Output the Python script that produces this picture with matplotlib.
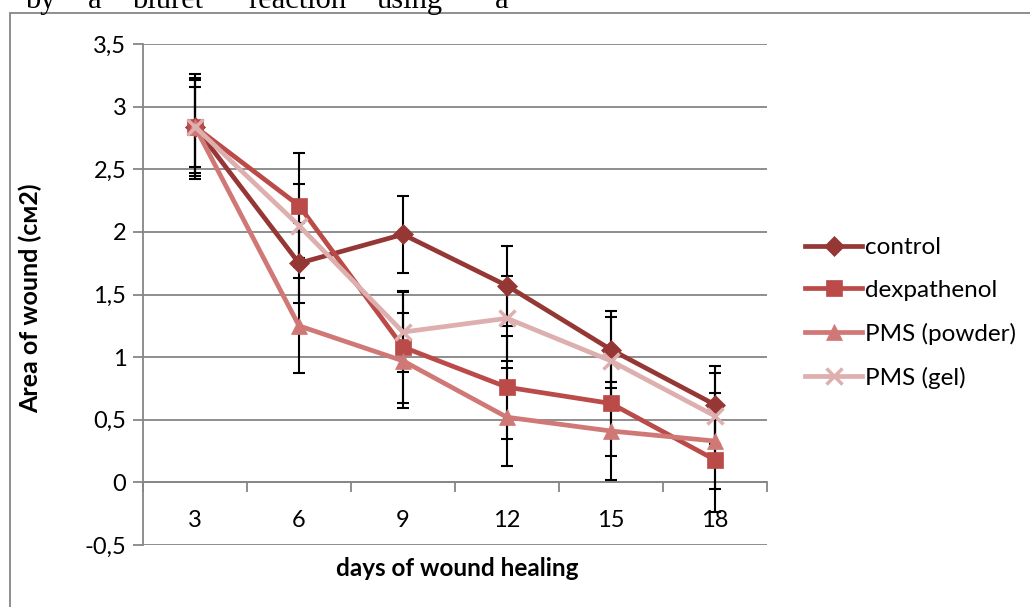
import matplotlib
matplotlib.use("Agg")
import matplotlib.pyplot as plt
from matplotlib.ticker import FixedLocator, FuncFormatter
from matplotlib.patches import Rectangle

days = ["3", "6", "9", "12", "15", "18"]

control = [2.84, 1.75, 1.98, 1.57, 1.06, 0.62]
dexpathenol = [2.84, 2.21, 1.08, 0.76, 0.63, 0.18]
pms_powder = [2.84, 1.25, 0.97, 0.52, 0.41, 0.33]
pms_gel = [2.84, 2.05, 1.20, 1.31, 0.97, 0.53]

control_err = [0.32, 0.32, 0.31, 0.32, 0.31, 0.31]
dexpathenol_err = [0.42, 0.42, 0.45, 0.41, 0.42, 0.42]
pms_powder_err = [0.39, 0.38, 0.38, 0.39, 0.39, 0.38]
pms_gel_err = [0.37, 0.33, 0.32, 0.34, 0.35, 0.34]

series = [
    ("control", control, control_err, "#953735", "D", 10),
    ("dexpathenol", dexpathenol, dexpathenol_err, "#BA4B48", "s", 11),
    ("PMS (powder)", pms_powder, pms_powder_err, "#D07876", "^", 12),
    ("PMS (gel)", pms_gel, pms_gel_err, "#DDAFAE", "x", 12),
]

plt.rcParams['font.family'] = ['Lato', 'DejaVu Sans']
grey = "#868686"

fig = plt.figure(figsize=(10.3, 6.07), dpi=100)
ax = fig.add_axes([143 / 1030, 1 - 545 / 607, 624 / 1030, 501 / 607])

x = list(range(len(days)))
for name, vals, err, col, mk, ms in series:
    ax.errorbar(x, vals, yerr=err, fmt="none", ecolor="black", elinewidth=1.5,
                capsize=4.3, capthick=1.5, zorder=3)
for name, vals, err, col, mk, ms in series:
    ax.plot(x, vals, color=col, lw=3.4, marker=mk, markersize=ms,
            markeredgewidth=2.5 if mk == "x" else 0.5, markeredgecolor=col,
            label=name, zorder=4)

ax.set_xlim(-0.5, len(days) - 0.5)
ax.set_ylim(-0.5, 3.5)

yt = [-0.5, 0, 0.5, 1, 1.5, 2, 2.5, 3, 3.5]
ax.yaxis.set_major_locator(FixedLocator(yt))
ax.yaxis.set_major_formatter(FuncFormatter(lambda v, p: ("%g" % v).replace(".", ",")))
ax.grid(axis="y", color=grey, lw=1.3, zorder=1)
ax.tick_params(axis="y", length=7, width=1.3, color=grey, labelsize=17, pad=5)

ax.spines["bottom"].set_position(("data", 0))
ax.spines["bottom"].set_color(grey)
ax.spines["bottom"].set_linewidth(1.3)
ax.spines["left"].set_color(grey)
ax.spines["left"].set_linewidth(1.3)
ax.spines["top"].set_visible(False)
ax.spines["right"].set_visible(False)

ax.set_xticks(x)
ax.set_xticklabels(days)
ax.set_xticks([i - 0.5 for i in range(len(days) + 1)], minor=True)
ax.tick_params(axis="x", which="major", length=0, labelsize=17, pad=20)
ax.tick_params(axis="x", which="minor", length=7, width=1.3, color=grey, direction="out")

fig.text(30 / 1030, 1 - 298 / 607, "Area of wound (см2)", rotation=90,
         ha="center", va="center", fontsize=18, fontweight="bold")
fig.text(457 / 1030, 1 - 569 / 607, "days of wound healing",
         ha="center", va="center", fontsize=17.5, fontweight="bold")

ax.legend(loc="center left", bbox_to_anchor=(805 / 1030, 1 - 313 / 607),
          bbox_transform=fig.transFigure, frameon=False, fontsize=17.5,
          handlelength=2.35, handletextpad=0.13, labelspacing=0.9,
          borderpad=0, borderaxespad=0)

# chart frame and the cut-off line of document text above it
fig.patches.append(Rectangle((10 / 1030, -0.2), 1.2, 1.2 - 13 / 607,
                             transform=fig.transFigure, fill=False,
                             edgecolor=grey, lw=1.3))
words = [("by", 25), ("a", 88), ("biuret", 132), ("reaction", 248), ("using", 377), ("a", 495)]
for w, px in words:
    fig.text(px / 1030, 1 - 8 / 607, w, fontsize=22, family="Liberation Serif",
             ha="left", va="baseline")

fig.savefig("out.png", dpi=100)
